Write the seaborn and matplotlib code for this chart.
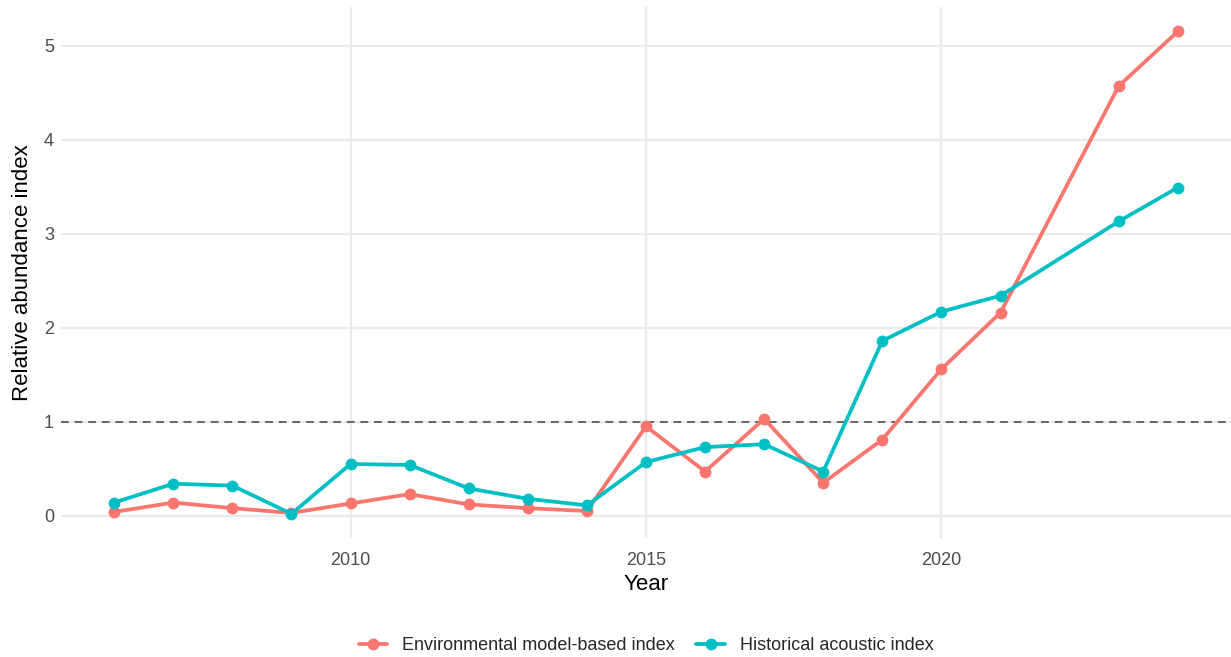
import numpy as np
import pandas as pd
import matplotlib
matplotlib.use('Agg')
import matplotlib.pyplot as plt
import seaborn as sns

# Данные (2022 отсутствует)
years = [2006, 2007, 2008, 2009, 2010, 2011, 2012, 2013, 2014, 2015,
         2016, 2017, 2018, 2019, 2020, 2021, 2023, 2024]
env_index = [0.04, 0.14, 0.08, 0.03, 0.13, 0.23, 0.12, 0.08, 0.05, 0.95,
             0.47, 1.03, 0.35, 0.81, 1.56, 2.16, 4.57, 5.15]
hist_index = [0.14, 0.34, 0.32, 0.02, 0.55, 0.54, 0.29, 0.18, 0.11, 0.57,
              0.73, 0.76, 0.47, 1.86, 2.17, 2.34, 3.13, 3.49]
series_names = ['Environmental model-based index', 'Historical acoustic index']
palette = ['#F8766D', '#00BFC4']

df = pd.DataFrame({
    'Year': years * 2,
    'value': env_index + hist_index,
    'series': [series_names[0]] * len(years) + [series_names[1]] * len(years),
})

sns.set_style('white')
plt.rcParams['font.family'] = ['Liberation Sans', 'DejaVu Sans']

fig = plt.figure(figsize=(12.31, 6.57), dpi=100)
ax = fig.add_axes([61 / 1231, 1 - 538 / 657, 1170 / 1231, 531 / 657])

ax.axhline(1, color='#666666', lw=1.4, ls=(0, (4, 3)), zorder=1)
sns.lineplot(data=df, x='Year', y='value', hue='series', palette=palette,
             marker='o', markersize=8.5, markeredgewidth=0, lw=2.7, ax=ax, zorder=3)

ax.set_xlim(2005.1, 2024.9)
ax.set_ylim(-0.237, 5.41)
ax.set_xticks([2010, 2015, 2020])
ax.set_yticks([0, 1, 2, 3, 4, 5])
ax.grid(True, color='#EBEBEB', lw=1.6, zorder=0)
ax.set_axisbelow(True)
for s in ax.spines.values():
    s.set_visible(False)
ax.tick_params(length=0, labelsize=13, labelcolor='#4D4D4D')
ax.tick_params(axis='x', pad=10)
ax.tick_params(axis='y', pad=5)
ax.set_xlabel('Year', fontsize=16, color='black', labelpad=4)
ax.set_ylabel('Relative abundance index', fontsize=16, color='black', labelpad=8)

handles, labels = ax.get_legend_handles_labels()
ax.legend(handles, labels, loc='center', bbox_to_anchor=(0.5, -0.203), ncol=2,
          frameon=False, fontsize=13, handlelength=1.6, columnspacing=1.2,
          handletextpad=0.8, borderpad=0.2)

fig.savefig('out.png', dpi=100)
